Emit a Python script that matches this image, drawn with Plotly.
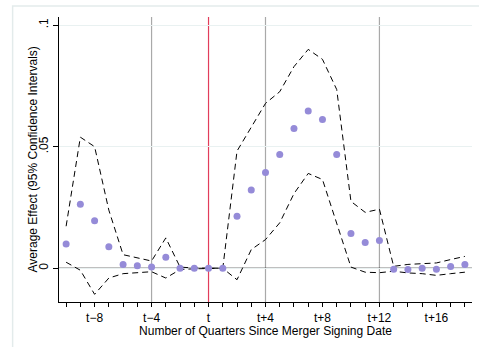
import plotly.graph_objects as go

quarters = list(range(-10, 19))
effect = [0.0100, 0.0263, 0.0195, 0.0089, 0.0016, 0.0010, 0.0005, 0.0045, 0.0000, 0.0000,
          0.0000, 0.0000, 0.0214, 0.0322, 0.0394, 0.0468, 0.0575, 0.0647, 0.0612, 0.0468,
          0.0143, 0.0106, 0.0114, -0.0004, -0.0005, 0.0000, -0.0004, 0.0007, 0.0016]
upper_ci = [0.0173, 0.0539, 0.0500, 0.0239, 0.0056, 0.0044, 0.0030, 0.0125, 0.0005, 0.0001,
            0.0000, 0.0000, 0.0482, 0.0581, 0.0678, 0.0726, 0.0829, 0.0900, 0.0859, 0.0735,
            0.0275, 0.0230, 0.0243, 0.0008, 0.0016, 0.0019, 0.0022, 0.0036, 0.0049]
lower_ci = [0.0025, -0.0008, -0.0107, -0.0040, -0.0022, -0.0019, -0.0014, -0.0040, -0.0005, -0.0002,
            0.0000, 0.0000, -0.0047, 0.0077, 0.0118, 0.0187, 0.0307, 0.0390, 0.0365, 0.0184,
            0.0005, -0.0016, -0.0018, -0.0012, -0.0019, -0.0022, -0.0029, -0.0022, -0.0016]

x_tick_vals = [-8, -4, 0, 4, 8, 12, 16]
x_tick_text = ["t\u22128", "t\u22124", "t", "t+4", "t+8", "t+12", "t+16"]
y_tick_vals = [0, 0.05, 0.1]
y_tick_text = ["0", ".05", ".1"]
gray_lines = [-4, 4, 12]
signing_line = 0
x_title = "Number of Quarters Since Merger Signing Date"
y_title = "Average Effect (95% Confidence Intervals)"

font = "Liberation Sans, Arial, sans-serif"
fs = 12

fig = go.Figure()
for ci in (upper_ci, lower_ci):
    fig.add_trace(go.Scatter(x=quarters, y=ci, mode="lines",
                             line=dict(color="black", width=1, dash="6px,4px"),
                             showlegend=False, hoverinfo="skip"))
fig.add_trace(go.Scatter(x=quarters, y=effect, mode="markers",
                         marker=dict(color="#958bd8", size=7, line=dict(width=0)),
                         showlegend=False))

shapes = []
for gx in gray_lines:
    shapes.append(dict(type="line", xref="x", yref="paper", x0=gx, x1=gx, y0=0, y1=1,
                       line=dict(color="#a9a9a9", width=1.2), layer="below"))
shapes.append(dict(type="line", xref="x", yref="paper", x0=signing_line, x1=signing_line,
                   y0=0, y1=1, line=dict(color="#e23d5b", width=1.2), layer="below"))
shapes.append(dict(type="line", xref="x", yref="y", x0=-10.5, x1=18.5, y0=0, y1=0,
                   line=dict(color="black", width=1.2), layer="below"))
# outer graph region frame (light)
shapes.append(dict(type="rect", xref="paper", yref="paper", x0=-0.1123, x1=1.05,
                   y0=-0.2, y1=1.0386, line=dict(color="#e3ebeb", width=1.5),
                   fillcolor="rgba(0,0,0,0)", layer="below"))

minor_text = [x_tick_text[x_tick_vals.index(q)] if q in x_tick_vals else "" for q in quarters]

fig.update_layout(
    width=479, height=347,
    margin=dict(l=59, r=7, t=17, b=45, autoexpand=False),
    paper_bgcolor="white", plot_bgcolor="white",
    font=dict(family=font, size=fs, color="black"),
    shapes=shapes,
    annotations=[dict(text=y_title, xref="paper", yref="paper", x=-0.063, y=0.5,
                      xanchor="center", yanchor="middle", textangle=-90, showarrow=False,
                      font=dict(size=fs))],
    xaxis=dict(range=[-10.5, 18.5], tickmode="array", tickvals=quarters, ticktext=minor_text,
               ticks="outside", ticklen=4, tickcolor="black", tickwidth=1,
               showline=True, linecolor="black", linewidth=1.2, showgrid=False,
               zeroline=False, tickangle=0,
               title=dict(text=x_title, standoff=1, font=dict(size=fs)),
               automargin=False),
    yaxis=dict(range=[-0.01385, 0.1033], tickmode="array", tickvals=y_tick_vals, ticktext=y_tick_text,
               ticks="outside", ticklen=5, tickcolor="black", tickwidth=1, tickangle=-90,
               showline=True, linecolor="black", linewidth=1.2,
               showgrid=True, gridcolor="#e9f1f1", gridwidth=1.2, zeroline=False,
               automargin=False),
)

fig.write_html("out.html")
